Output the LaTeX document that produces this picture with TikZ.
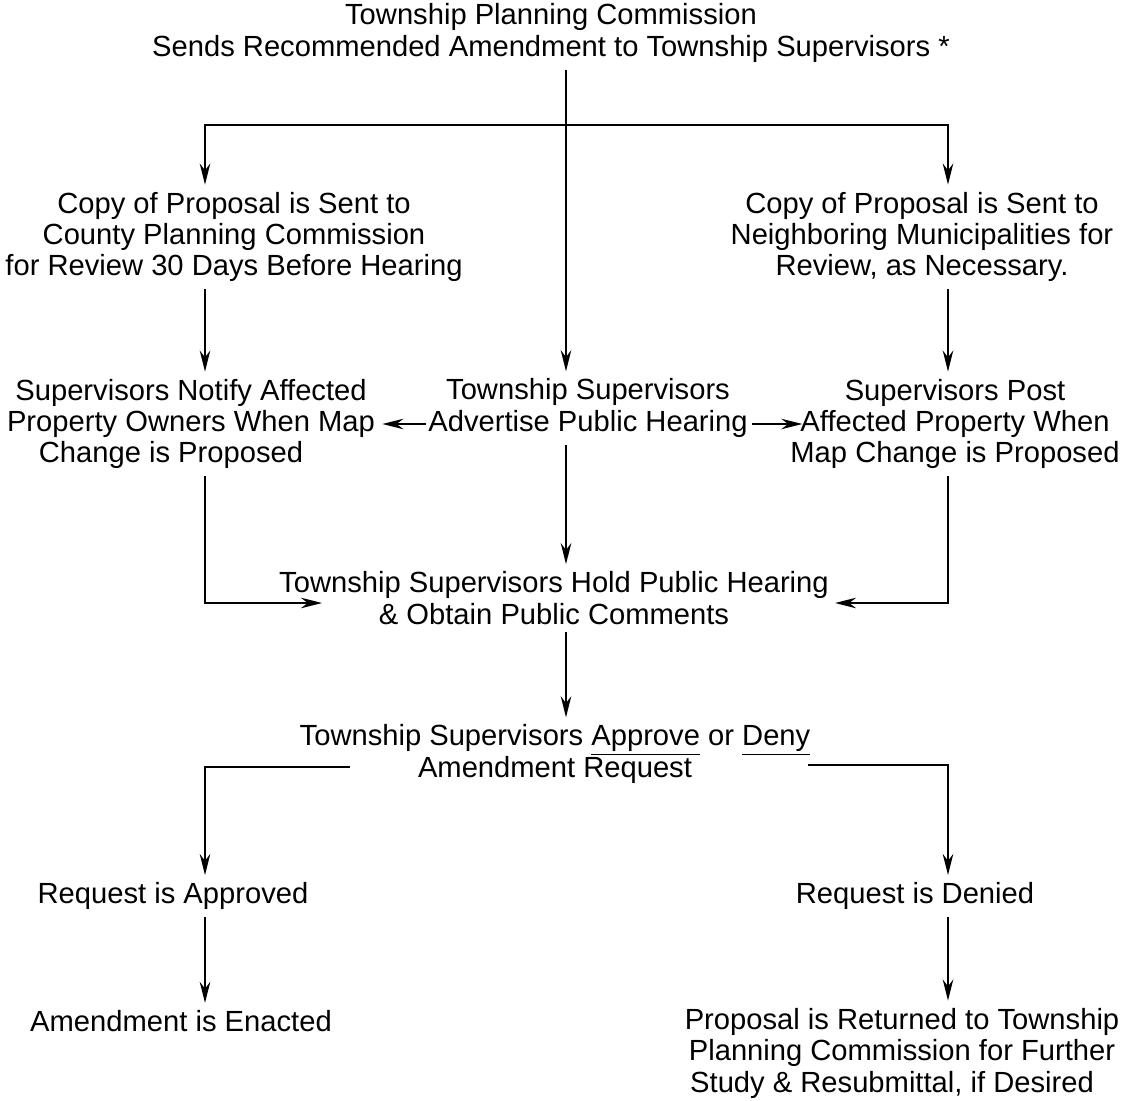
\documentclass[tikz,border=0pt]{standalone}
\usepackage{fontspec}
\setmainfont{Liberation Sans}
\usetikzlibrary{arrows.meta}
\begin{document}
\begin{tikzpicture}[x=0.02cm,y=-0.02cm,
  txt/.style={align=center, inner sep=4pt, font=\fontsize{16.6}{17.9}\selectfont},
  ln/.style={line width=1.1pt},
  arr/.style={ln, -{Stealth[length=12pt,width=6pt]}}]
\useasboundingbox (0,0) rectangle (1125,1101);
% column coordinates
\coordinate (cx) at (566,0);
\coordinate (lx) at (205,0);
\coordinate (rx) at (948,0);
\coordinate (ay) at (0,424);
% nodes
\node[txt] (top) at (551,33) {Township Planning Commission\\Sends Recommended Amendment to Township Supervisors *};
\node[txt] (cp1) at (234,237) {Copy of Proposal is Sent to\\County Planning Commission\\for Review 30 Days Before Hearing};
\node[txt] (cp2) at (922,237) {Copy of Proposal is Sent to\\Neighboring Municipalities for\\Review, as Necessary.};
\node[txt] (notify) at (191,424) {Supervisors Notify Affected\\Property Owners When Map\\Change is Proposed\hspace*{0.8cm}};
\node[txt] (adv) at (588,408) {Township Supervisors\\Advertise Public Hearing};
\node[txt] (post) at (955,424) {Supervisors Post\\Affected Property When\\Map Change is Proposed};
\node[txt] (hold) at (554,598) {Township Supervisors Hold Public Hearing\\\& Obtain Public Comments};
\node[txt] (dec) at (555,754) {Township Supervisors \underline{Approve} or \underline{Deny}\\Amendment Request};
\node[txt] (appr) at (173,896) {Request is Approved};
\node[txt] (den) at (915,896) {Request is Denied};
\node[txt] (enact) at (181,1021) {Amendment is Enacted};
\node[txt] (ret) at (902,1053) {Proposal is Returned to Township\\Planning Commission for Further\\Study \& Resubmittal, if Desired\hspace*{0.4cm}};
% junction / free-end coordinates
\coordinate (j1) at (566,125);
\coordinate (hl) at (322,603);
\coordinate (hr) at (835,603);
\coordinate (dl) at (350,767);
\coordinate (dr) at (808,765);
% connectors
\draw[arr] (top.south -| cx) -- (adv.north -| cx);
\draw[arr] (j1) -| (cp1.north -| lx);
\draw[arr] (j1) -| (cp2.north -| rx);
\draw[arr] (cp1.south -| lx) -- (notify.north -| lx);
\draw[arr] (cp2.south -| rx) -- (post.north -| rx);
\draw[arr, shorten <=-3pt] (adv.west |- ay) -- (notify.east |- ay);
\draw[arr, shorten <=-2pt, shorten >=-11pt] (adv.east |- ay) -- (post.west |- ay);
\draw[arr] (adv.south -| cx) -- (hold.north -| cx);
\draw[arr] (notify.south -| lx) |- (hl);
\draw[arr] (post.south -| rx) |- (hr);
\draw[arr] (hold.south -| cx) -- (dec.north -| cx);
\draw[arr] (dl) -| (appr.north -| lx);
\draw[arr] (dr) -| (den.north -| rx);
\draw[arr] (appr.south -| lx) -- (enact.north -| lx);
\draw[arr] (den.south -| rx) -- (ret.north -| rx);
\end{tikzpicture}
\end{document}
